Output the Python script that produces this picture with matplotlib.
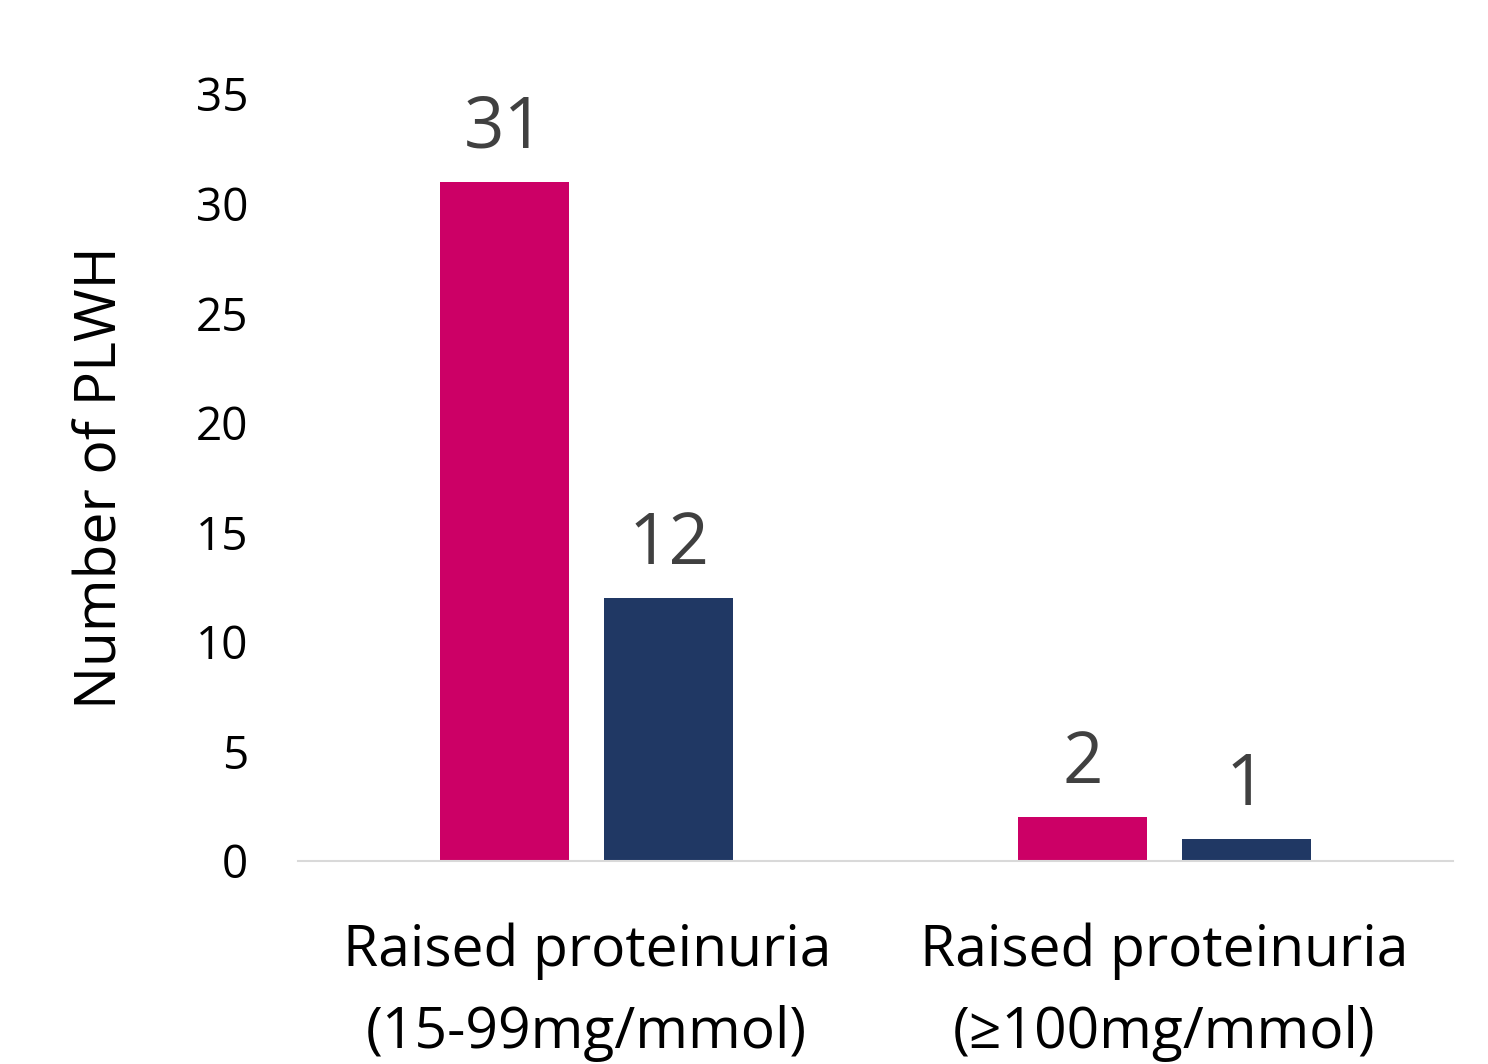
import matplotlib
matplotlib.use("Agg")
import matplotlib.pyplot as plt
import numpy as np

categories = ["Raised proteinuria\n(15-99mg/mmol)", "Raised proteinuria\n(≥100mg/mmol)"]
series_a = [31, 2]
series_b = [12, 1]
yticks = [0, 5, 10, 15, 20, 25, 30, 35]

pink = "#CC0066"
navy = "#203864"
label_grey = "#404040"

plt.rcParams["font.family"] = ["Open Sans", "DejaVu Sans"]

fig = plt.figure(figsize=(14.88, 10.64), dpi=100)
ax = fig.add_axes([0.2003, 0.1908, 0.7762, 0.7209])

x = np.arange(len(categories))
width = 0.223
offset = 0.142

bars_a = ax.bar(x - offset, series_a, width, color=pink)
bars_b = ax.bar(x + offset, series_b, width, color=navy)

for bars, vals in ((bars_a, series_a), (bars_b, series_b)):
    for b, v in zip(bars, vals):
        ax.annotate(str(v), (b.get_x() + b.get_width() / 2, v),
                    xytext=(0, 12), textcoords="offset points",
                    ha="center", va="bottom", fontsize=51, color=label_grey)

ax.set_xlim(-0.5, 1.5)
ax.set_ylim(0, 35)
ax.set_yticks(yticks)
ax.set_yticklabels([str(t) for t in yticks], fontsize=33)
ax.set_xticks(x)
ax.set_xticklabels(categories, fontsize=41, linespacing=1.6)
ax.tick_params(axis="both", length=0)
ax.tick_params(axis="y", pad=36)
ax.tick_params(axis="x", pad=44)
ax.set_ylabel("Number of PLWH", fontsize=41, labelpad=47)

for s in ("top", "right", "left"):
    ax.spines[s].set_visible(False)
ax.spines["bottom"].set_color("#D9D9D9")
ax.spines["bottom"].set_linewidth(1.5)

fig.savefig("out.png", dpi=100, facecolor="white")
